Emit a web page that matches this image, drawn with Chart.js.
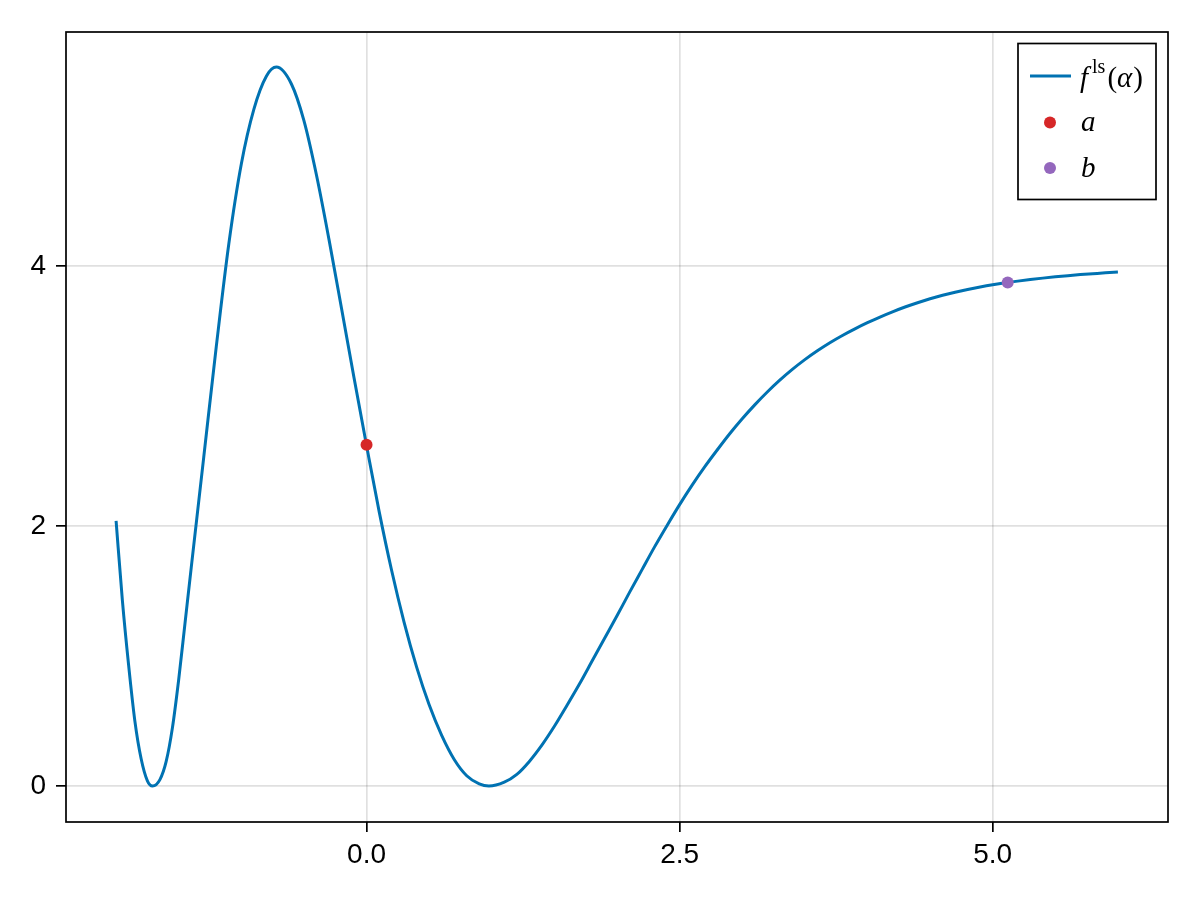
<!DOCTYPE html>
<html>
<head>
<meta charset="utf-8">
<script src="https://cdn.jsdelivr.net/npm/chart.js@4"></script>
<style>
  html, body { margin: 0; padding: 0; background: #fff; }
  canvas { display: block; }
</style>
</head>
<body>
<canvas id="canvas" width="1200" height="900"></canvas>
<script>
// values
let alpha = [-2.0, -1.95, -1.9, -1.85, -1.8, -1.75, -1.709, -1.65, -1.6, -1.55,
  -1.5, -1.45, -1.4, -1.3, -1.2, -1.1, -1.0, -0.9, -0.8, -0.72,
  -0.6, -0.5, -0.4, -0.3, -0.2, -0.1, 0.0, 0.1, 0.2, 0.3,
  0.4, 0.5, 0.6, 0.7, 0.8, 0.9, 0.977, 1.1, 1.2, 1.3,
  1.4, 1.5, 1.6, 1.7, 1.8, 1.9, 2.0, 2.1, 2.2, 2.3,
  2.4, 2.5, 2.6, 2.7, 2.8, 2.9, 3.0, 3.1, 3.2, 3.3,
  3.4, 3.5, 3.6, 3.7, 3.8, 3.9, 4.0, 4.1, 4.2, 4.3,
  4.4, 4.5, 4.6, 4.7, 4.8, 4.9, 5.0, 5.1, 5.2, 5.3,
  5.4, 5.5, 5.6, 5.7, 5.8, 5.9, 6.0];
let fls = [2.04, 1.43, 0.93, 0.50, 0.21, 0.04, 0.0, 0.05, 0.19, 0.45,
  0.82, 1.25, 1.68, 2.53, 3.38, 4.17, 4.785, 5.205, 5.46, 5.53,
  5.40, 5.118, 4.70, 4.205, 3.675, 3.14, 2.62, 2.115, 1.66, 1.26,
  0.915, 0.625, 0.39, 0.205, 0.08, 0.017, 0.0, 0.03, 0.09, 0.19,
  0.315, 0.46, 0.62, 0.785, 0.96, 1.135, 1.31, 1.49, 1.665, 1.84,
  2.005, 2.165, 2.315, 2.455, 2.585, 2.71, 2.825, 2.932, 3.031, 3.122,
  3.205, 3.28, 3.348, 3.41, 3.466, 3.517, 3.564, 3.608, 3.648, 3.685,
  3.718, 3.748, 3.775, 3.799, 3.82, 3.839, 3.856, 3.871, 3.884, 3.896,
  3.907, 3.917, 3.926, 3.934, 3.941, 3.948, 3.954];
let pointA = [0.0, 2.625];
let pointB = [5.12, 3.874];

let xTicks = [0, 2.5, 5];
let xTickLabels = ['0.0', '2.5', '5.0'];
let yTicks = [0, 2, 4];
let yTickLabels = ['0', '2', '4'];

let blue = '#0072B2';
let red = 'rgb(214,39,40)';
let purple = 'rgb(148,103,189)';

let curve = alpha.map((x, i) => ({ x: x, y: fls[i] }));

let framePlugin = {
  id: 'frame',
  afterDatasetsDraw(chart) {
    let a = chart.chartArea;
    let c = chart.ctx;
    c.save();
    c.strokeStyle = '#000';
    c.lineWidth = 1.7;
    c.strokeRect(a.left, a.top, a.right - a.left, a.bottom - a.top);
    c.restore();
  }
};

let legendPlugin = {
  id: 'mathLegend',
  afterDraw(chart) {
    let c = chart.ctx;
    c.save();
    c.fillStyle = '#fff';
    c.fillRect(1018, 43.5, 138, 156);
    c.strokeStyle = '#000';
    c.lineWidth = 1.7;
    c.strokeRect(1018, 43.5, 138, 156);

    // line sample
    c.strokeStyle = blue;
    c.lineWidth = 3;
    c.beginPath();
    c.moveTo(1030, 76);
    c.lineTo(1071, 76);
    c.stroke();

    // dots
    c.fillStyle = red;
    c.beginPath(); c.arc(1050, 122.5, 6, 0, Math.PI * 2); c.fill();
    c.fillStyle = purple;
    c.beginPath(); c.arc(1050, 168, 6, 0, Math.PI * 2); c.fill();

    // labels
    c.fillStyle = '#000';
    c.textBaseline = 'alphabetic';
    let it = 'italic 29px "Liberation Serif"';
    let up = '29px "Liberation Serif"';
    let sm = '20px "Liberation Serif"';
    let parts = [
      ['f', it, 0, 4], ['ls', sm, -14, 2], ['(', up, 0, 0], ['\u03b1', it, 0, 1], [')', up, 0, 0]
    ];
    let x = 1080;
    let base = 87;
    parts.forEach(p => {
      c.font = p[1];
      c.fillText(p[0], x, base + p[2]);
      x += c.measureText(p[0]).width + p[3];
    });
    c.font = it;
    c.fillText('a', 1081, 131);
    c.fillText('b', 1081, 176.5);
    c.restore();
  }
};

let ctx = document.getElementById('canvas').getContext('2d');
let chart = new Chart(ctx, {
  type: 'scatter',
  data: {
    datasets: [{
      label: 'a',
      data: [{ x: pointA[0], y: pointA[1] }],
      backgroundColor: red,
      borderWidth: 0,
      pointRadius: 6
    }, {
      label: 'b',
      data: [{ x: pointB[0], y: pointB[1] }],
      backgroundColor: purple,
      borderWidth: 0,
      pointRadius: 6
    }, {
      label: 'f ls(alpha)',
      data: curve,
      showLine: true,
      borderColor: blue,
      borderWidth: 3,
      pointRadius: 0,
      cubicInterpolationMode: 'monotone',
      fill: false
    }]
  },
  options: {
    responsive: false,
    animation: false,
    devicePixelRatio: 1,
    layout: { padding: { top: 32, right: 32, bottom: 0, left: 0 } },
    plugins: {
      legend: { display: false },
      tooltip: { enabled: false }
    },
    scales: {
      x: {
        type: 'linear',
        min: -2.4,
        max: 6.4,
        afterBuildTicks: s => { s.ticks = xTicks.map(v => ({ value: v })); },
        afterFit: s => { s.height = 78; },
        ticks: {
          callback: (v) => xTickLabels[xTicks.indexOf(v)],
          color: '#000',
          font: { family: '"Liberation Sans", Arial, sans-serif', size: 28 },
          padding: 6,
          maxRotation: 0
        },
        grid: {
          color: 'rgba(0,0,0,0.12)',
          lineWidth: 1.7,
          tickLength: 10,
          tickColor: '#000',
          tickWidth: 1.7
        },
        border: { display: false }
      },
      y: {
        type: 'linear',
        min: -0.276,
        max: 5.8,
        afterBuildTicks: s => { s.ticks = yTicks.map(v => ({ value: v })); },
        afterFit: s => { s.width = 66; },
        ticks: {
          callback: (v) => yTickLabels[yTicks.indexOf(v)],
          color: '#000',
          font: { family: '"Liberation Sans", Arial, sans-serif', size: 28 },
          padding: 10
        },
        grid: {
          color: 'rgba(0,0,0,0.12)',
          lineWidth: 1.7,
          tickLength: 10,
          tickColor: '#000',
          tickWidth: 1.7
        },
        border: { display: false }
      }
    }
  },
  plugins: [framePlugin, legendPlugin]
});
</script>
</body>
</html>
